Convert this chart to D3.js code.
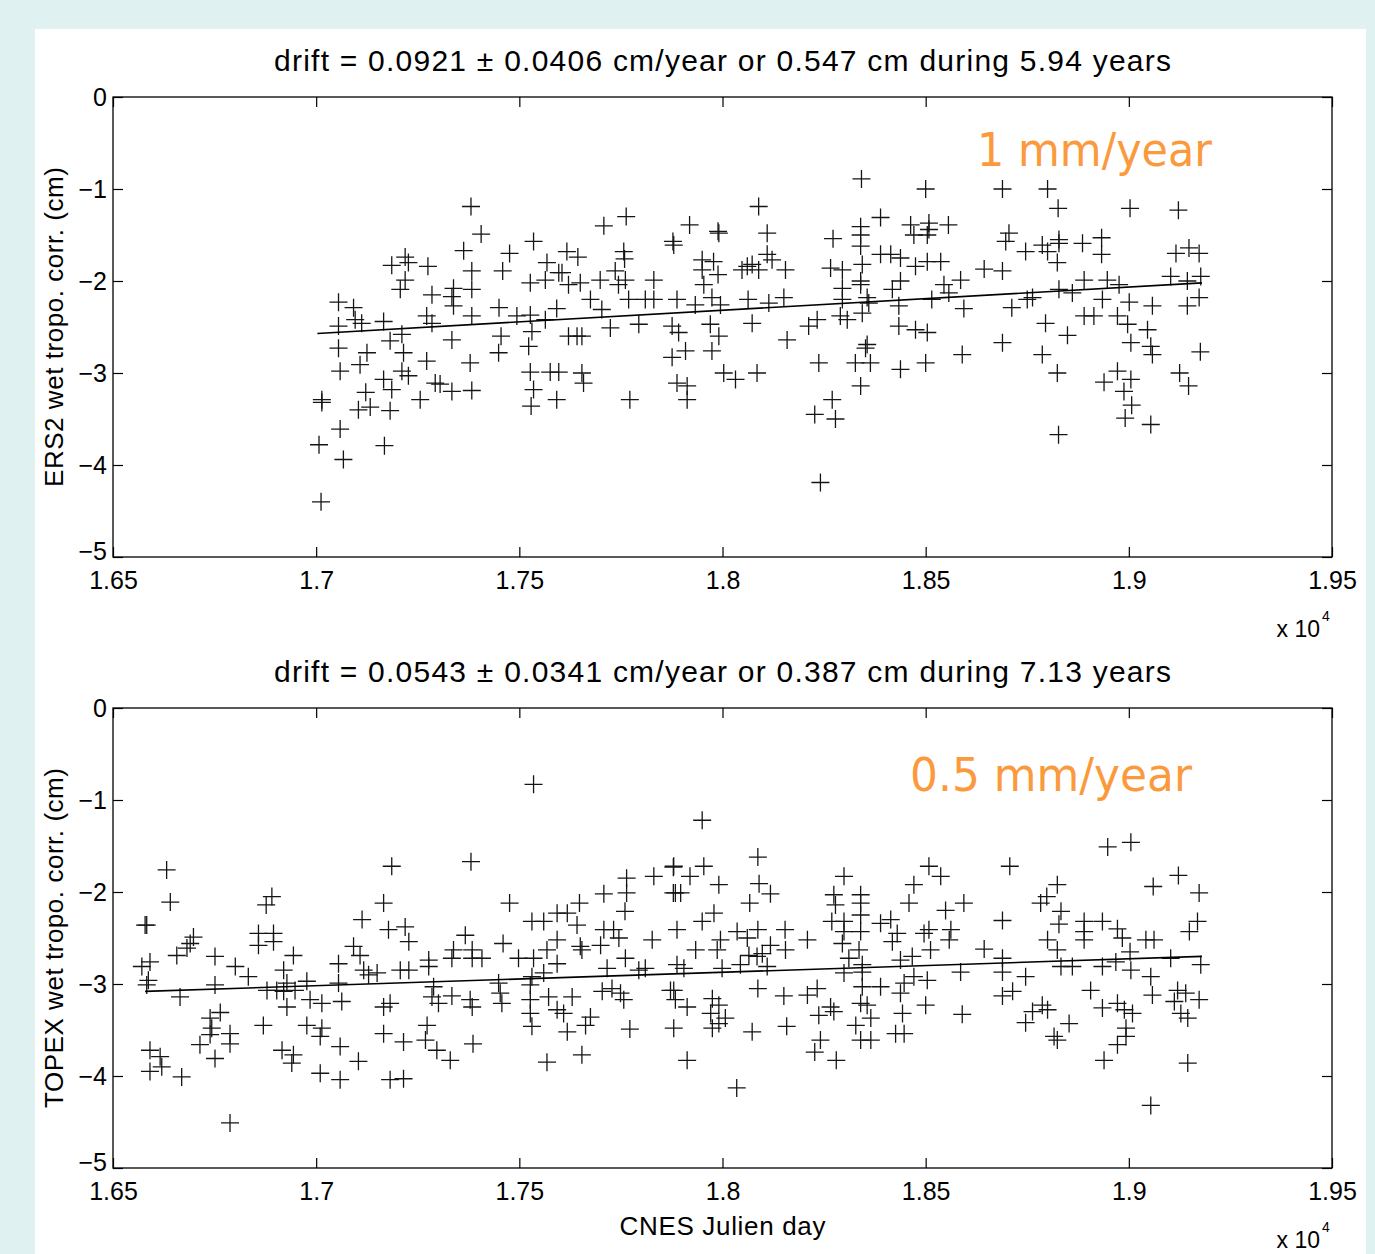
<!DOCTYPE html>
<html>
<head>
<meta charset="utf-8">
<script src="https://cdn.jsdelivr.net/npm/d3@7"></script>
<style>
  body { margin: 0; background: #dff1f1; }
</style>
</head>
<body>
<script>
// tick values (CNES Julian day, cm)
const xTicks = [16500, 17000, 17500, 18000, 18500, 19000, 19500]
const yTicks = [0, -1, -2, -3, -4, -5]

// ERS2 wet tropo correction : [day, cm]
const ersObs = [
  [17381,-1.19],[17406,-1.49],[17363,-1.67],[17476,-1.70],[17535,-1.57],[17186,-1.83],[17219,-1.74],[17227,-1.80],
  [17275,-1.84],[17219,-1.99],[17207,-2.09],[17383,-1.89],[17459,-1.89],[17568,-1.80],[17617,-1.68],[17644,-1.74],
  [17527,-2.02],[17564,-1.99],[17597,-1.91],[17605,-1.91],[17621,-2.04],[17650,-2.02],[17285,-2.15],[17338,-2.08],
  [17383,-2.09],[17334,-2.17],[17338,-2.27],[17055,-2.23],[17092,-2.29],[17096,-2.42],[17112,-2.46],[17166,-2.44],
  [17272,-2.38],[17285,-2.46],[17383,-2.38],[17450,-2.29],[17494,-2.38],[17527,-2.37],[17564,-2.42],[17592,-2.30],
  [17675,-2.20],[17055,-2.49],[17211,-2.58],[17182,-2.65],[17334,-2.64],[17455,-2.60],[17531,-2.55],[17055,-2.73],
  [17125,-2.78],[17215,-2.78],[17449,-2.78],[17523,-2.71],[17621,-2.60],[17642,-2.60],[17654,-2.60],[17059,-2.98],
  [17108,-2.91],[17272,-2.87],[17379,-2.89],[17211,-2.98],[17227,-3.03],[17166,-3.07],[17186,-3.18],[17293,-3.11],
  [17305,-3.12],[17334,-3.20],[17383,-3.19],[17527,-2.99],[17576,-2.99],[17597,-2.99],[17654,-3.00],[17658,-3.11],
  [17014,-3.29],[17122,-3.21],[17256,-3.29],[17104,-3.40],[17133,-3.37],[17182,-3.41],[17535,-3.18],[17529,-3.36],
  [17592,-3.29],[17059,-3.61],[17007,-3.78],[17168,-3.79],[17067,-3.94],[17012,-4.40],[17014,-3.32],
  [18342,-0.89],[18389,-1.31],[18089,-1.19],[17763,-1.30],[17708,-1.40],[17919,-1.39],[17989,-1.46],[17991,-1.48],
  [18110,-1.48],[17878,-1.57],[17880,-1.61],[18272,-1.54],[18340,-1.41],[18340,-1.50],[18340,-1.62],[17757,-1.68],
  [17759,-1.76],[17950,-1.77],[17978,-1.79],[17950,-1.88],[17989,-1.93],[17954,-2.04],[18110,-1.71],[18122,-1.77],
  [18048,-1.88],[18061,-1.84],[18073,-1.82],[18089,-1.88],[18155,-1.88],[17736,-1.89],[17761,-1.99],[17744,-2.04],
  [17699,-1.99],[17831,-1.99],[18266,-1.86],[18295,-1.88],[18344,-1.82],[18340,-2.00],[18340,-2.04],[18389,-1.71],
  [18414,-1.71],[18438,-1.75],[18438,-2.00],[18418,-2.09],[18295,-2.08],[18295,-2.20],[18356,-2.18],[17769,-2.20],
  [17810,-2.20],[17831,-2.20],[17888,-2.20],[17933,-2.26],[17974,-2.18],[17995,-2.26],[18063,-2.20],[18151,-2.18],
  [18114,-2.24],[17703,-2.31],[17724,-2.51],[17794,-2.47],[17876,-2.49],[17892,-2.56],[17970,-2.47],[17991,-2.60],
  [18073,-2.46],[18212,-2.49],[18233,-2.42],[18290,-2.38],[18307,-2.42],[18344,-2.35],[18360,-2.24],[18434,-2.27],
  [18434,-2.49],[17876,-2.83],[17909,-2.76],[17974,-2.76],[18159,-2.64],[18356,-2.69],[18352,-2.73],[18237,-2.89],
  [18327,-2.89],[18364,-2.89],[18438,-2.96],[18003,-3.00],[18032,-3.07],[18085,-3.00],[17888,-3.11],[17913,-3.14],
  [17913,-3.29],[17772,-3.29],[18340,-3.14],[18270,-3.29],[18227,-3.45],[18278,-3.50],[18241,-4.19],
  [18500,-1.00],[18689,-1.00],[18800,-1.00],[18826,-1.21],[19003,-1.21],[19122,-1.23],[18463,-1.39],[18508,-1.37],
  [18508,-1.44],[18471,-1.50],[18504,-1.50],[18556,-1.39],[18705,-1.48],[18697,-1.57],[18746,-1.68],[18787,-1.61],
  [18800,-1.68],[18828,-1.55],[18828,-1.59],[18886,-1.59],[18933,-1.53],[18933,-1.71],[18824,-1.80],[18475,-1.84],
  [18504,-1.79],[18537,-1.79],[18644,-1.87],[18689,-1.89],[18586,-1.99],[18545,-2.04],[18557,-2.13],[18515,-2.20],
  [18594,-2.30],[18712,-2.29],[18750,-2.20],[18763,-2.18],[18828,-2.09],[18861,-2.13],[18890,-1.99],[18947,-1.99],
  [18976,-2.04],[18935,-2.20],[19001,-2.23],[19058,-2.27],[19116,-1.70],[19148,-1.64],[19173,-1.70],[19103,-1.95],
  [19144,-2.00],[19177,-1.95],[19173,-2.18],[19144,-2.27],[18890,-2.38],[18914,-2.38],[18972,-2.38],[18997,-2.47],
  [18795,-2.46],[18849,-2.59],[18475,-2.53],[18504,-2.56],[19046,-2.53],[19005,-2.67],[19054,-2.71],[19058,-2.80],
  [18689,-2.67],[18787,-2.80],[18590,-2.80],[18500,-2.89],[18824,-3.00],[19176,-2.77],[18939,-3.10],[18972,-2.98],
  [19005,-3.07],[18988,-3.20],[19007,-3.35],[18991,-3.49],[19054,-3.56],[19125,-3.00],[19147,-3.14],[18827,-3.67]
]

// TOPEX wet tropo correction : [day, cm]
const topexObs = [
  [16632,-1.76],[16641,-2.11],[16579,-2.36],[16583,-2.36],[16698,-2.49],[16690,-2.56],[16682,-2.61],[16657,-2.69],
  [16591,-2.76],[16571,-2.81],[16587,-2.96],[16583,-3.01],[16665,-3.14],[16751,-2.70],[16751,-3.01],[16801,-2.81],
  [16833,-2.92],[16891,-2.05],[16877,-2.14],[16858,-2.45],[16895,-2.45],[16895,-2.54],[16858,-2.58],[16944,-2.69],
  [16920,-2.85],[16928,-2.99],[16879,-3.07],[16903,-3.07],[16920,-3.08],[16948,-3.07],[16977,-2.97],[16928,-3.25],
  [16985,-3.17],[17014,-3.21],[17063,-3.19],[17055,-2.78],[17055,-2.99],[17092,-2.59],[17108,-2.69],[17117,-2.85],
  [17129,-2.90],[17113,-2.30],[17186,-1.72],[17166,-2.12],[17178,-2.41],[17207,-2.85],[16764,-3.31],[16739,-3.37],
  [16743,-3.48],[16739,-3.55],[16788,-3.54],[16788,-3.65],[16714,-3.66],[16751,-3.81],[16591,-3.72],[16616,-3.79],
  [16620,-3.90],[16591,-3.95],[16669,-4.01],[16870,-3.45],[16977,-3.45],[17014,-3.48],[17010,-3.57],[16916,-3.72],
  [16944,-3.77],[16940,-3.86],[17059,-3.68],[17104,-3.84],[17010,-3.97],[17059,-4.04],[17166,-3.25],[17182,-3.21],
  [17166,-3.54],[17182,-4.04],[16788,-4.51],[17150,-2.88],
  [17535,-0.83],[17381,-1.67],[17476,-2.12],[17219,-2.38],[17228,-2.54],[17367,-2.47],[17338,-2.63],[17334,-2.72],
  [17384,-2.63],[17384,-2.72],[17408,-2.72],[17277,-2.74],[17277,-2.81],[17228,-2.85],[17460,-2.56],[17498,-2.72],
  [17535,-2.72],[17593,-2.78],[17568,-2.63],[17593,-2.52],[17531,-2.32],[17560,-2.32],[17593,-2.23],[17618,-2.23],
  [17642,-2.36],[17648,-2.12],[17708,-2.02],[17764,-1.85],[17764,-2.01],[17760,-2.21],[17831,-1.83],[17879,-1.73],
  [17879,-2.01],[17708,-2.41],[17732,-2.41],[17745,-2.50],[17700,-2.58],[17650,-2.59],[17654,-2.63],[17716,-2.83],
  [17761,-2.72],[17794,-2.85],[17810,-2.83],[17827,-2.52],[17289,-3.03],[17285,-3.14],[17301,-3.21],[17334,-3.13],
  [17379,-3.17],[17384,-3.25],[17449,-2.99],[17453,-3.10],[17457,-3.21],[17527,-3.01],[17531,-2.92],[17560,-2.88],
  [17527,-3.17],[17527,-3.32],[17572,-3.14],[17630,-3.14],[17593,-3.28],[17609,-3.32],[17675,-3.36],[17663,-3.45],
  [17531,-3.46],[17618,-3.52],[17704,-3.08],[17728,-3.05],[17757,-3.17],[17749,-3.10],[17872,-3.07],[17273,-3.45],
  [17269,-3.61],[17215,-3.63],[17297,-3.72],[17330,-3.83],[17386,-3.65],[17654,-3.77],[17568,-3.85],[17772,-3.49],
  [17215,-4.03],
  [17950,-1.22],[18087,-1.62],[17880,-1.72],[17954,-1.72],[17920,-1.83],[17991,-1.92],[18090,-1.91],[18118,-2.02],
  [18067,-2.12],[17884,-2.01],[17897,-2.01],[17979,-2.23],[17950,-2.32],[17888,-2.41],[18036,-2.43],[18061,-2.50],
  [18087,-2.41],[18154,-2.41],[17995,-2.52],[17987,-2.63],[17934,-2.63],[18118,-2.58],[18155,-2.63],[18209,-2.52],
  [17888,-2.79],[17905,-2.83],[17999,-2.83],[18044,-2.79],[18065,-2.69],[18085,-2.70],[18110,-2.81],[18098,-2.67],
  [17880,-3.07],[17884,-3.17],[17913,-3.25],[17975,-3.16],[17991,-3.23],[17971,-3.32],[18007,-3.37],[17991,-3.43],
  [17975,-3.48],[18087,-3.05],[18151,-3.13],[18073,-3.52],[18158,-3.46],[17880,-3.48],[17913,-3.83],[18035,-4.13],
  [18209,-3.12],[18233,-3.05],[18299,-1.83],[18274,-2.03],[18278,-2.14],[18269,-2.32],[18299,-2.32],[18299,-2.43],
  [18295,-2.56],[18340,-2.03],[18340,-2.12],[18340,-2.25],[18340,-2.43],[18336,-2.63],[18311,-2.72],[18344,-2.79],
  [18344,-2.87],[18299,-2.88],[18344,-3.03],[18389,-3.03],[18340,-3.21],[18356,-3.23],[18365,-3.37],[18328,-3.45],
  [18340,-3.61],[18365,-3.61],[18266,-3.25],[18274,-3.30],[18237,-3.34],[18241,-3.61],[18227,-3.74],[18280,-3.83],
  [18389,-2.34],[18414,-2.30],[18430,-2.45],[18418,-2.54],[18438,-2.74],[18467,-2.70],[18471,-2.92],[18447,-2.99],
  [18438,-3.10],[18443,-3.32],[18426,-3.54],[18447,-3.54],[18504,-2.96],[18500,-3.23],[18471,-1.92],[18459,-2.12],
  [18508,-1.72],[18537,-1.83],[18496,-2.45],[18508,-2.41],[18512,-2.63],
  [18948,-1.51],[19005,-1.46],[18707,-1.72],[19122,-1.82],[19060,-1.94],[19173,-2.01],[18824,-1.92],[18798,-2.05],
  [18783,-2.12],[18594,-2.12],[18549,-2.20],[18833,-2.21],[18828,-2.35],[18689,-2.31],[18562,-2.41],[18558,-2.52],
  [18890,-2.32],[18890,-2.43],[18890,-2.52],[18935,-2.32],[18972,-2.40],[18984,-2.50],[18800,-2.52],[18824,-2.63],
  [19169,-2.32],[19149,-2.43],[19042,-2.52],[19062,-2.52],[18644,-2.62],[18689,-2.72],[18689,-2.87],[18586,-2.87],
  [18746,-2.92],[19003,-2.65],[18968,-2.76],[19005,-2.85],[18935,-2.81],[18833,-2.81],[18861,-2.81],[19103,-2.72],
  [19177,-2.79],[19054,-2.92],[18689,-3.13],[18714,-3.08],[18906,-3.07],[19058,-3.12],[19120,-3.07],[19140,-3.10],
  [19173,-3.17],[19112,-3.19],[19128,-3.32],[19145,-3.37],[18590,-3.33],[18746,-3.42],[18763,-3.30],[18787,-3.23],
  [18800,-3.28],[18853,-3.43],[18816,-3.57],[18824,-3.61],[18935,-3.26],[18972,-3.21],[18989,-3.28],[19009,-3.32],
  [18993,-3.48],[18993,-3.57],[18972,-3.66],[18939,-3.83],[19145,-3.86],[19054,-4.32]
]

// drift lines (end points)
const ersFit = [[17003, -2.57], [19180, -2.02]]
const topexFit = [[16579, -3.08], [19180, -2.70]]

const titles = ['drift = 0.0921 \u00b1 0.0406 cm/year or 0.547 cm during 5.94 years',
                'drift = 0.0543 \u00b1 0.0341 cm/year or 0.387 cm during 7.13 years']
const yLabels = ['ERS2 wet tropo. corr. (cm)', 'TOPEX wet tropo. corr. (cm)']
const notes = ['1 mm/year', '0.5 mm/year']

const W = 1375, H = 1254
const font = '"Liberation Sans", Arial, Helvetica, sans-serif'

const svg = d3.select('body').append('svg')
    .attr('width', W)
    .attr('height', H)
    .style('display', 'block')

svg.append('rect').attr('width', W).attr('height', H).attr('fill', '#dff1f1')
svg.append('rect').attr('x', 35).attr('y', 29).attr('width', 1331).attr('height', H - 29).attr('fill', '#fff')

const left = 113, right = 1332

function panel(top, bottom, obs, fit, title, ylab, ylabLen, note, noteX, noteY, noteLen, xlab) {
    const x = d3.scaleLinear().domain([16500, 19500]).range([left, right])
    const y = d3.scaleLinear().domain([-5, 0]).range([bottom, top])
    const g = svg.append('g')

    const styleAxis = sel => {
        sel.select('.domain').remove()
        sel.selectAll('line').attr('stroke', '#000').attr('stroke-width', 1.2)
        sel.selectAll('text').attr('fill', '#000').attr('font-size', 25).attr('font-family', font)
    }

    g.append('g').attr('transform', `translate(0,${bottom})`)
        .call(d3.axisBottom(x).tickValues(xTicks).tickSize(-10).tickPadding(14)
            .tickFormat(d => +(d / 1e4).toFixed(3)))
        .call(styleAxis)
    g.append('g').attr('transform', `translate(0,${top})`)
        .call(d3.axisTop(x).tickValues(xTicks).tickSize(-10).tickFormat(''))
        .call(styleAxis)
    g.append('g').attr('transform', `translate(${left},0)`)
        .call(d3.axisLeft(y).tickValues(yTicks).tickSize(-10).tickPadding(6).tickFormat(d3.format('d')))
        .call(styleAxis)
        .call(a => a.selectAll('text').filter(d => d === -5).attr('dy', '0.1em'))
    g.append('g').attr('transform', `translate(${right},0)`)
        .call(d3.axisRight(y).tickValues(yTicks).tickSize(-10).tickFormat(''))
        .call(styleAxis)

    g.append('rect')
        .attr('x', left).attr('y', top)
        .attr('width', right - left).attr('height', bottom - top)
        .attr('fill', 'none').attr('stroke', '#000').attr('stroke-width', 1.3)

    g.append('g')
        .selectAll('path')
        .data(obs)
        .join('path')
            .attr('transform', d => `translate(${x(d[0])},${y(d[1])})`)
            .attr('d', 'M-9,0H9M0,-9V9')
            .attr('stroke', '#151515')
            .attr('stroke-width', 1.3)
            .attr('fill', 'none')

    g.append('path')
        .datum(fit)
        .attr('d', d3.line().x(d => x(d[0])).y(d => y(d[1])))
        .attr('stroke', '#000').attr('stroke-width', 1.6).attr('fill', 'none')

    g.append('text')
        .attr('x', (left + right) / 2).attr('y', top - 26)
        .attr('text-anchor', 'middle')
        .attr('font-family', font).attr('font-size', 30)
        .attr('textLength', 897).attr('lengthAdjust', 'spacing')
        .text(title)

    g.append('text')
        .attr('transform', `translate(63,${(top + bottom) / 2}) rotate(-90)`)
        .attr('text-anchor', 'middle')
        .attr('font-family', font).attr('font-size', 26)
        .attr('textLength', ylabLen).attr('lengthAdjust', 'spacing')
        .text(ylab)

    g.append('text')
        .attr('x', 1320).attr('y', bottom + 80)
        .attr('text-anchor', 'end')
        .attr('font-family', font).attr('font-size', 23)
        .text('x 10')
    g.append('text')
        .attr('x', 1322).attr('y', bottom + 64)
        .attr('font-family', font).attr('font-size', 14)
        .text('4')

    g.append('text')
        .attr('x', noteX).attr('y', noteY)
        .attr('font-family', '"Comic Sans MS", "DejaVu Sans", sans-serif')
        .attr('font-size', 46)
        .attr('fill', '#fb9a3c')
        .attr('textLength', noteLen)
        .attr('lengthAdjust', 'spacingAndGlyphs')
        .text(note)

    if (xlab) {
        g.append('text')
            .attr('x', (left + right) / 2).attr('y', bottom + 67)
            .attr('text-anchor', 'middle')
            .attr('font-family', font).attr('font-size', 26)
            .attr('textLength', 206).attr('lengthAdjust', 'spacing')
            .text(xlab)
    }
}

panel(97, 557, ersObs, ersFit, titles[0], yLabels[0], 320, notes[0], 977, 166, 235, null)
panel(708, 1168, topexObs, topexFit, titles[1], yLabels[1], 340, notes[1], 910, 791, 282, 'CNES Julien day')
</script>
</body>
</html>
